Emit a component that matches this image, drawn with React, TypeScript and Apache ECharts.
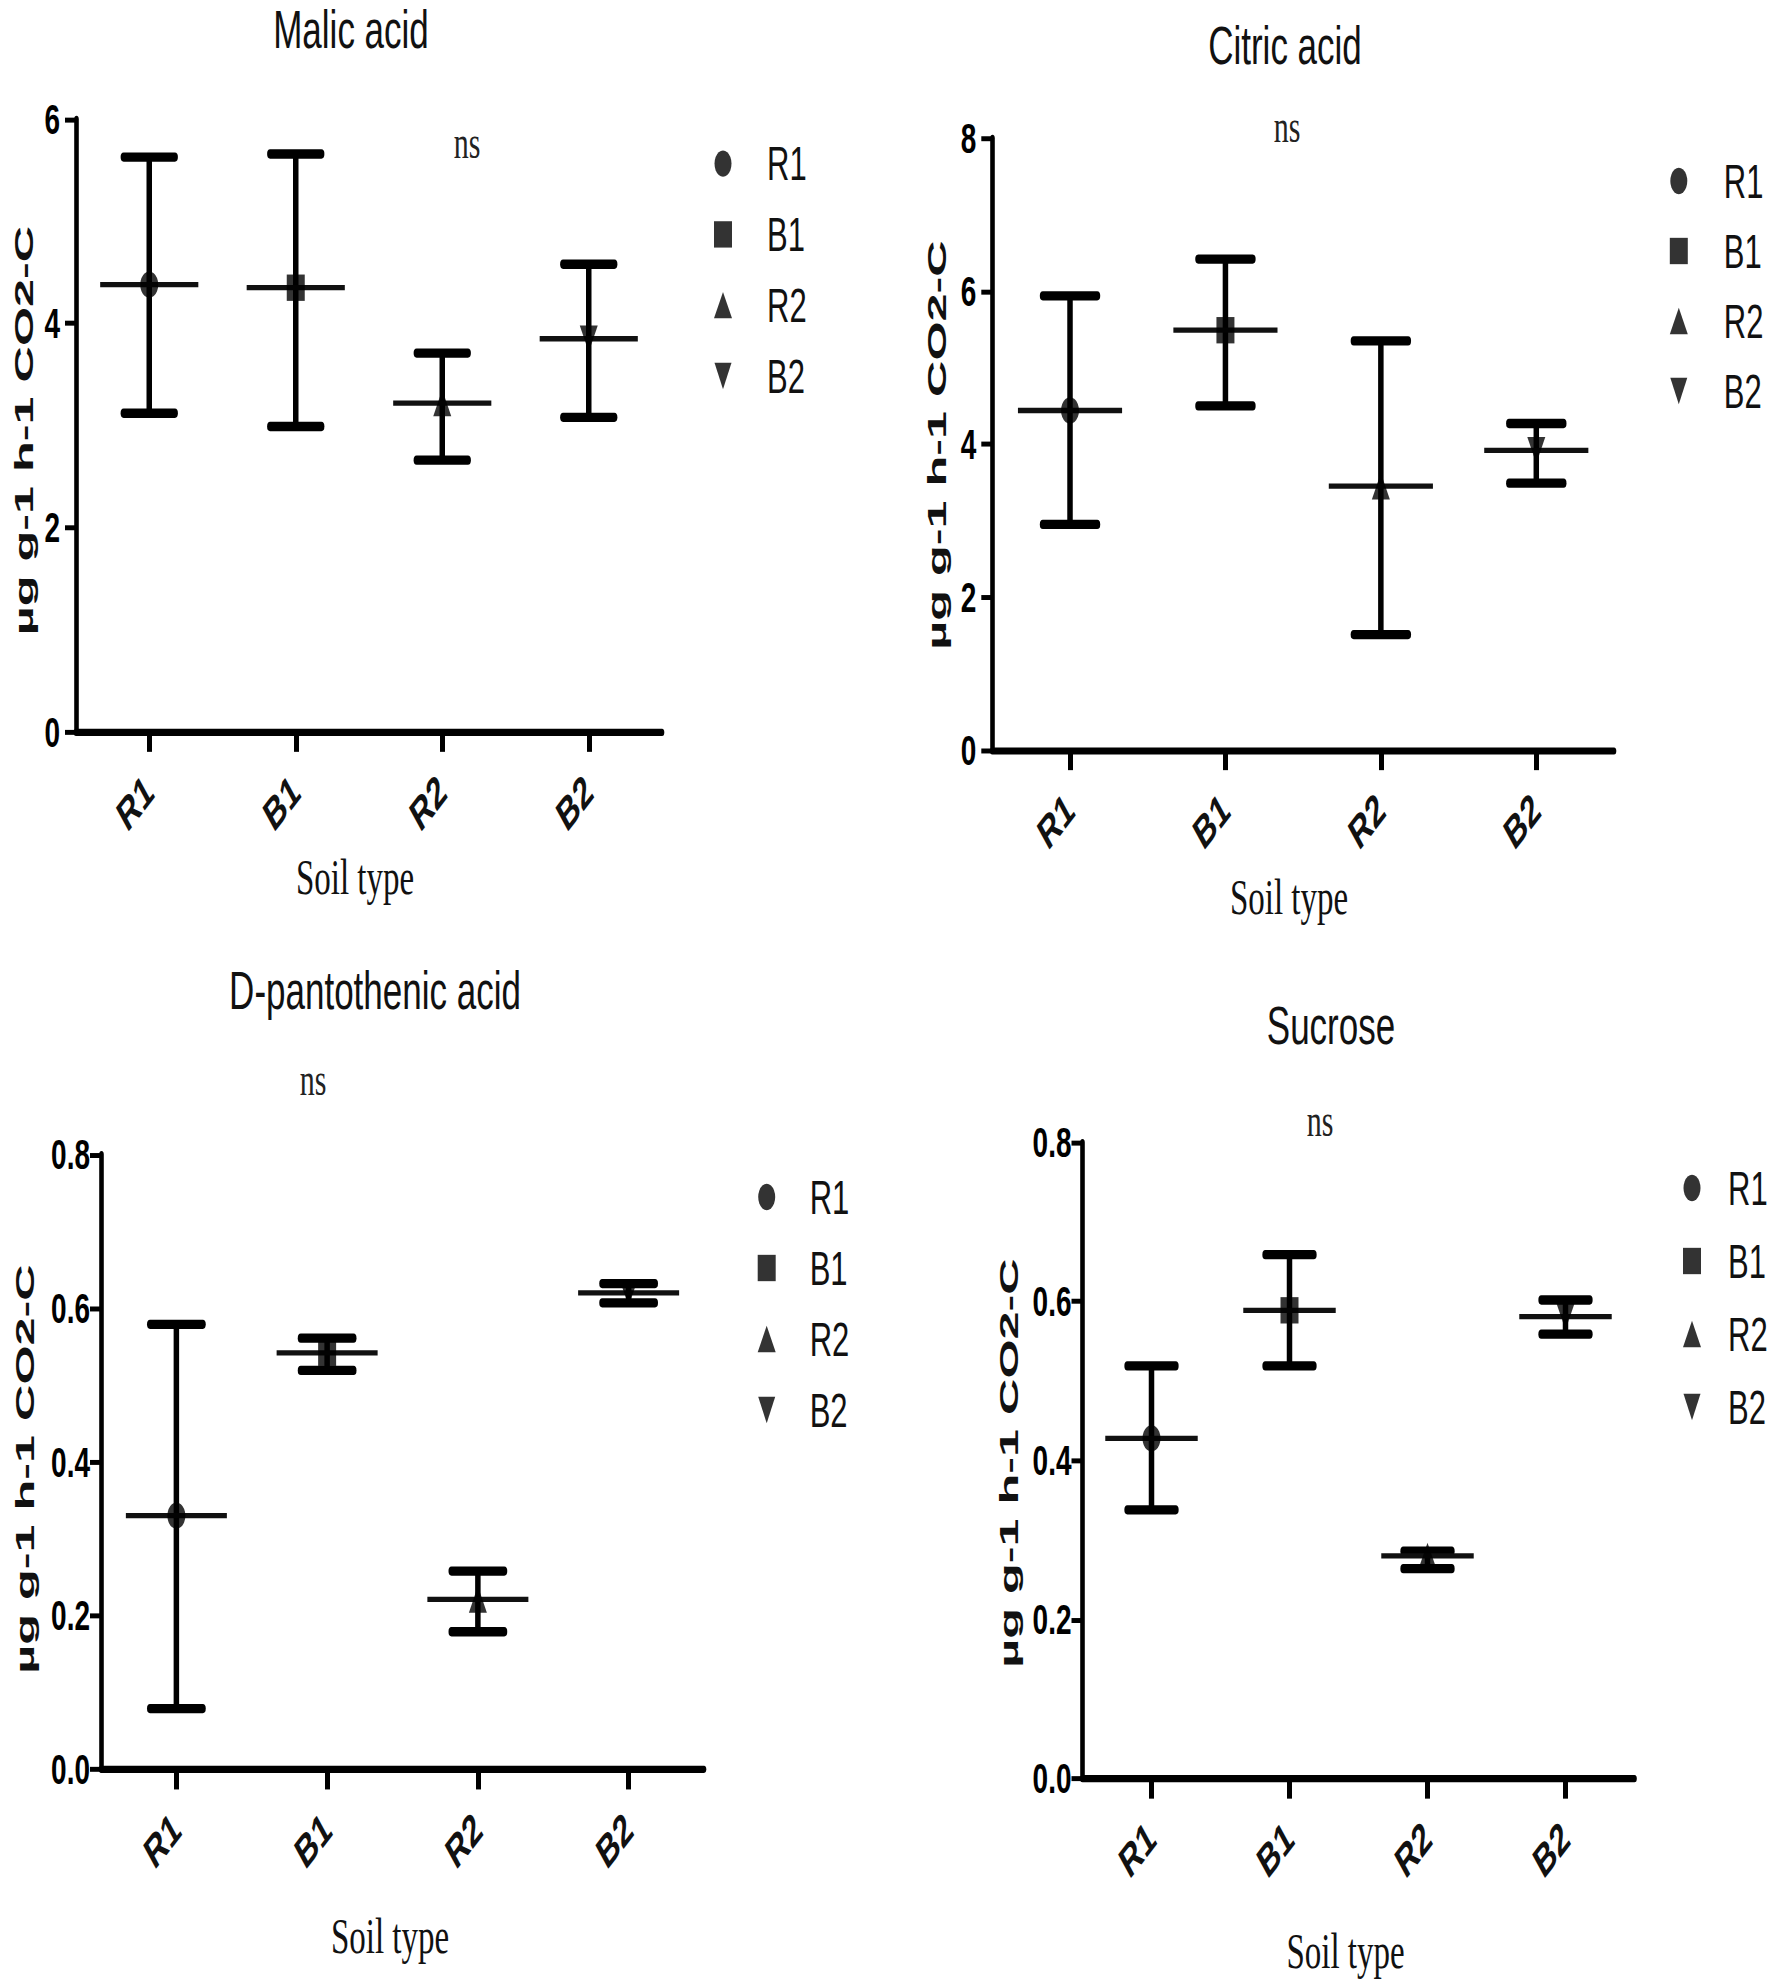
import React, { useEffect, useRef } from 'react';
import * as echarts from 'echarts';

// ---------------- data ----------------
const categories = ['R1', 'B1', 'R2', 'B2'];
const panelTitles = ['Malic acid', 'Citric acid', 'D-pantothenic acid', 'Sucrose'];
const xAxisTitle = 'Soil type';
const yAxisTitle = 'µg g-1 h-1 CO2-C';
const significance = 'ns';

const malicMean = [4.38, 4.35, 3.22, 3.85];
const malicLow = [3.12, 2.99, 2.66, 3.08];
const malicHigh = [5.63, 5.66, 3.71, 4.58];

const citricMean = [4.44, 5.49, 3.45, 3.92];
const citricLow = [2.95, 4.5, 1.51, 3.49];
const citricHigh = [5.94, 6.42, 5.35, 4.27];

const pantoMean = [0.33, 0.542, 0.221, 0.62];
const pantoLow = [0.079, 0.519, 0.179, 0.607];
const pantoHigh = [0.579, 0.561, 0.258, 0.632];

const sucroseMean = [0.428, 0.589, 0.28, 0.581];
const sucroseLow = [0.338, 0.519, 0.264, 0.559];
const sucroseHigh = [0.519, 0.659, 0.286, 0.602];

const yMaxes = [6, 8, 0.8, 0.8];
const yIntervals = [2, 2, 0.2, 0.2];
const yDecimals = [0, 0, 1, 1];

const means = [malicMean, citricMean, pantoMean, sucroseMean];
const lows = [malicLow, citricLow, pantoLow, sucroseLow];
const highs = [malicHigh, citricHigh, pantoHigh, sucroseHigh];

const markerSymbols = ['circle', 'rect', 'triangle', 'path://M0,0L10,0L5,10Z'];

// ---------------- layout (page px; vertical values are divided by K) ----------------
const W = 1770;
const H = 1984;
const K = 1.55; // vertical stretch of the whole figure
const fy = (y: number) => y / K;

const SANS = "'Liberation Sans', Arial, Helvetica, sans-serif";
const SERIF = "'Liberation Serif', 'Times New Roman', serif";

const layout = [
  { grid: [76, 119.3, 662, 731.7], title: [351, 30], ns: [467, 142], xName: [355, 876.6], yName: [24, 430.5], legend: [723, 163.6, 70.8, 30], yMargin: 16 },
  { grid: [992.3, 138.3, 1614, 750], title: [1285, 45.5], ns: [1287, 126], xName: [1289, 897], yName: [937, 445], legend: [1678.8, 181, 70, 31], yMargin: 16 },
  { grid: [101, 1154.5, 704, 1769.3], title: [375, 991], ns: [313, 1079], xName: [390, 1936], yName: [25, 1469], legend: [766.7, 1197, 71, 29], yMargin: 11 },
  { grid: [1082.5, 1142.6, 1634.5, 1778.5], title: [1331, 1026], ns: [1320, 1120], xName: [1345.5, 1951], yName: [1009.5, 1463], legend: [1692, 1188, 73, 22], yMargin: 11 },
];

function buildOption() {
  const grids: any[] = [];
  const xAxes: any[] = [];
  const yAxes: any[] = [];
  const series: any[] = [];
  const legends: any[] = [];
  const graphics: any[] = [];

  layout.forEach((L, i) => {
    const [gl, gt, gr, gb] = L.grid;
    grids.push({ left: gl, top: fy(gt), width: gr - gl, height: fy(gb) - fy(gt), containLabel: false });

    xAxes.push({
      type: 'category',
      gridIndex: i,
      data: categories,
      boundaryGap: true,
      axisLine: { show: true, lineStyle: { color: '#000', width: 4.6 } },
      axisTick: { show: true, alignWithLabel: true, length: 13, lineStyle: { color: '#000', width: 5 } },
      axisLabel: { rotate: 40, margin: 34, fontSize: 29, fontWeight: 'bold', color: '#111', fontFamily: SANS },
      splitLine: { show: false },
    });

    yAxes.push({
      type: 'value',
      gridIndex: i,
      min: 0,
      max: yMaxes[i],
      interval: yIntervals[i],
      axisLine: { show: true, lineStyle: { color: '#000', width: 4.6 } },
      axisTick: { show: true, length: 11, lineStyle: { color: '#000', width: 3.2 } },
      axisLabel: {
        margin: L.yMargin,
        fontSize: 28,
        fontWeight: 'bold',
        color: '#000',
        fontFamily: SANS,
        formatter: (v: number) => v.toFixed(yDecimals[i]),
      },
      splitLine: { show: false },
    });

    // error bars (range + mean line) through the axes
    series.push({
      type: 'custom',
      name: 'err' + i,
      xAxisIndex: i,
      yAxisIndex: i,
      z: 1,
      silent: true,
      encode: { x: 0, y: [1, 2, 3] },
      data: categories.map((_, j) => [j, lows[i][j], means[i][j], highs[i][j]]),
      renderItem: (params: any, api: any) => {
        const cat = api.value(0);
        const lo = api.coord([cat, api.value(1)]);
        const mid = api.coord([cat, api.value(2)]);
        const hi = api.coord([cat, api.value(3)]);
        const band = api.size([1, 0])[0];
        const x = mid[0];
        const capHalf = band * 0.175;
        const meanHalf = band * 0.335;
        return {
          type: 'group',
          children: [
            { type: 'line', shape: { x1: x, y1: hi[1], x2: x, y2: lo[1] }, style: { stroke: '#000', lineWidth: 5.5 } },
            { type: 'line', shape: { x1: x - capHalf, y1: hi[1], x2: x + capHalf, y2: hi[1] }, style: { stroke: '#000', lineWidth: 6, lineCap: 'round' } },
            { type: 'line', shape: { x1: x - capHalf, y1: lo[1], x2: x + capHalf, y2: lo[1] }, style: { stroke: '#000', lineWidth: 6, lineCap: 'round' } },
            { type: 'line', shape: { x1: x - meanHalf, y1: mid[1], x2: x + meanHalf, y2: mid[1] }, style: { stroke: '#111', lineWidth: 3.4 } },
          ],
        };
      },
    });

    // group markers
    categories.forEach((name, j) => {
      series.push({
        type: 'scatter',
        name,
        xAxisIndex: i,
        yAxisIndex: i,
        z: 3,
        symbol: markerSymbols[j],
        symbolSize: [18, 17],
        itemStyle: { color: '#000' },
        data: [[name, means[i][j]]],
      });
    });

    const [lx, ly, lstep, lpad] = L.legend;
    const lineH = 34;
    legends.push({
      orient: 'vertical',
      left: lx - 9,
      top: fy(ly) - lineH / 2,
      padding: 0,
      itemWidth: 18,
      itemHeight: 17,
      itemGap: fy(lstep) - lineH,
      selectedMode: false,
      data: categories.map((n, j) => ({ name: n, icon: markerSymbols[j] })),
      textStyle: { fontSize: 31, fontFamily: SANS, color: '#111', lineHeight: lineH, padding: [0, 0, 0, lpad] },
    });

    graphics.push(
      {
        type: 'text', x: L.title[0], y: fy(L.title[1]),
        style: { text: panelTitles[i], fontSize: 35, fontFamily: SANS, fill: '#111', align: 'center', verticalAlign: 'middle' },
      },
      {
        type: 'text', x: L.ns[0], y: fy(L.ns[1]),
        style: { text: significance, fontSize: 30, fontFamily: SERIF, fill: '#222', align: 'center', verticalAlign: 'middle' },
      },
      {
        type: 'text', x: L.xName[0], y: fy(L.xName[1]),
        style: { text: xAxisTitle, fontSize: 33, fontFamily: SERIF, fill: '#111', align: 'center', verticalAlign: 'middle' },
      },
      {
        type: 'text', x: L.yName[0], y: fy(L.yName[1]), rotation: Math.PI / 2, scaleX: 1.3, scaleY: 1,
        style: { text: yAxisTitle, fontSize: 25, fontWeight: 'bold', fontFamily: SANS, fill: '#111', align: 'center', verticalAlign: 'middle' },
      }
    );
  });

  return {
    animation: false,
    backgroundColor: '#fff',
    grid: grids,
    xAxis: xAxes,
    yAxis: yAxes,
    legend: legends,
    series,
    graphic: graphics,
  };
}

export default function App() {
  const ref = useRef<HTMLDivElement>(null);
  useEffect(() => {
    if (!ref.current) return;
    const chart = echarts.init(ref.current, undefined, { renderer: 'svg' });
    chart.setOption(buildOption() as any);
    return () => chart.dispose();
  }, []);
  return (
    <div style={{ position: 'absolute', left: 0, top: 0, width: W, height: H, overflow: 'hidden', background: '#fff' }}>
      <div
        ref={ref}
        style={{ width: W, height: H / K, transform: `scaleY(${K})`, transformOrigin: '0 0' }}
      />
    </div>
  );
}
